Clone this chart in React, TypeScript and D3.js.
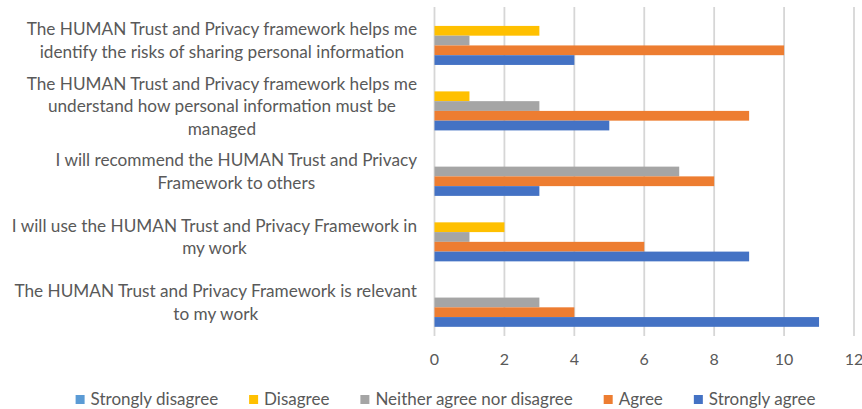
import React, { useEffect, useRef } from "react";
import * as d3 from "d3";

const categoryLines: string[][] = [
  ["The HUMAN Trust and Privacy framework helps me", "identify the risks of sharing personal information"],
  ["The HUMAN Trust and Privacy framework helps me", "understand how personal information must be", "managed"],
  ["I will recommend the HUMAN Trust and Privacy", "Framework to others"],
  ["I will use the HUMAN Trust and Privacy Framework in", "my work"],
  ["The HUMAN Trust and Privacy Framework is relevant", "to my work"],
];
const seriesNames = ["Strongly disagree", "Disagree", "Neither agree nor disagree", "Agree", "Strongly agree"];
const stronglyDisagree = [0, 0, 0, 0, 0];
const disagree = [3, 1, 0, 2, 0];
const neither = [1, 3, 7, 1, 3];
const agree = [10, 9, 8, 6, 4];
const stronglyAgree = [4, 5, 3, 9, 11];
const seriesValues = [stronglyDisagree, disagree, neither, agree, stronglyAgree];
const seriesColors = ["#5B9BD5", "#FFC000", "#A5A5A5", "#ED7D31", "#4472C4"];
const xTicks = [0, 2, 4, 6, 8, 10, 12];

const W = 862;
const H = 409;
const FONT = "Lato, 'Open Sans', sans-serif";
const TEXT = "#595959";

export default function App() {
  const ref = useRef<SVGSVGElement | null>(null);

  useEffect(() => {
    const svg = d3.select(ref.current);
    svg.selectAll("*").remove();

    const x = d3.scaleLinear().domain([0, 12]).range([434.5, 854]);
    const cats = categoryLines.map((_, i) => String(i));
    const y = d3.scaleBand().domain(cats).range([7, 336]).paddingInner(0.255).paddingOuter(0.14);
    const ySub = d3.scaleBand().domain(seriesNames).range([0, y.bandwidth()]);

    // gridlines
    svg.append("g")
      .selectAll("line")
      .data(xTicks)
      .join("line")
      .attr("x1", (d) => x(d))
      .attr("x2", (d) => x(d))
      .attr("y1", 7)
      .attr("y2", 336)
      .attr("stroke", "#D6D6D6")
      .attr("stroke-width", 1.8);

    // bars
    const groups = svg.append("g")
      .selectAll("g")
      .data(cats)
      .join("g")
      .attr("transform", (d) => `translate(0,${y(d)})`);
    groups.selectAll("rect")
      .data((d) => seriesNames.map((s, si) => ({ s, si, v: seriesValues[si][+d] })))
      .join("rect")
      .attr("x", x(0))
      .attr("y", (d) => ySub(d.s)!)
      .attr("width", (d) => x(d.v) - x(0))
      .attr("height", ySub.bandwidth())
      .attr("fill", (d) => seriesColors[d.si]);

    // x tick labels
    svg.append("g")
      .selectAll("text")
      .data(xTicks)
      .join("text")
      .attr("x", (d) => x(d))
      .attr("y", 359)
      .attr("dy", "0.35em")
      .attr("text-anchor", "middle")
      .attr("font-family", FONT)
      .attr("font-size", 16)
      .attr("fill", TEXT)
      .text((d) => String(d));

    // category labels
    const labelRight = 417;
    const lineH = 22.5;
    cats.forEach((c, i) => {
      const lines = categoryLines[i];
      const g = svg.append("g");
      const texts = g.selectAll("text")
        .data(lines)
        .join("text")
        .attr("font-family", FONT)
        .attr("font-size", 17.2)
        .attr("fill", TEXT)
        .attr("text-anchor", "middle")
        .attr("dy", "0.35em")
        .text((d) => d);
      let maxW = 0;
      texts.each(function () {
        maxW = Math.max(maxW, (this as SVGTextElement).getComputedTextLength());
      });
      const cx = labelRight - maxW / 2;
      const cy = y(c)! + y.bandwidth() / 2;
      texts
        .attr("x", cx)
        .attr("y", (_, j) => cy + (j - (lines.length - 1) / 2) * lineH);
    });

    // legend
    const leg = svg.append("g");
    const items = leg.selectAll("g")
      .data(seriesNames)
      .join("g");
    items.append("rect")
      .attr("width", 9)
      .attr("height", 9)
      .attr("y", 395)
      .attr("fill", (_, i) => seriesColors[i]);
    items.append("text")
      .attr("x", 15)
      .attr("y", 399.5)
      .attr("dy", "0.35em")
      .attr("font-family", FONT)
      .attr("font-size", 17)
      .attr("fill", TEXT)
      .text((d) => d);
    const widths: number[] = [];
    items.select("text").each(function () {
      widths.push((this as SVGTextElement).getComputedTextLength());
    });
    const gap = 31;
    const total = widths.reduce((a, w) => a + 15 + w, 0) + gap * (widths.length - 1);
    let cur = 445.5 - total / 2;
    items.attr("transform", (_, i) => {
      const t = `translate(${cur},0)`;
      cur += 15 + widths[i] + gap;
      return t;
    });
  }, []);

  return (
    <svg
      ref={ref}
      width={W}
      height={H}
      style={{ position: "absolute", left: 0, top: 0, background: "#fff" }}
    />
  );
}
